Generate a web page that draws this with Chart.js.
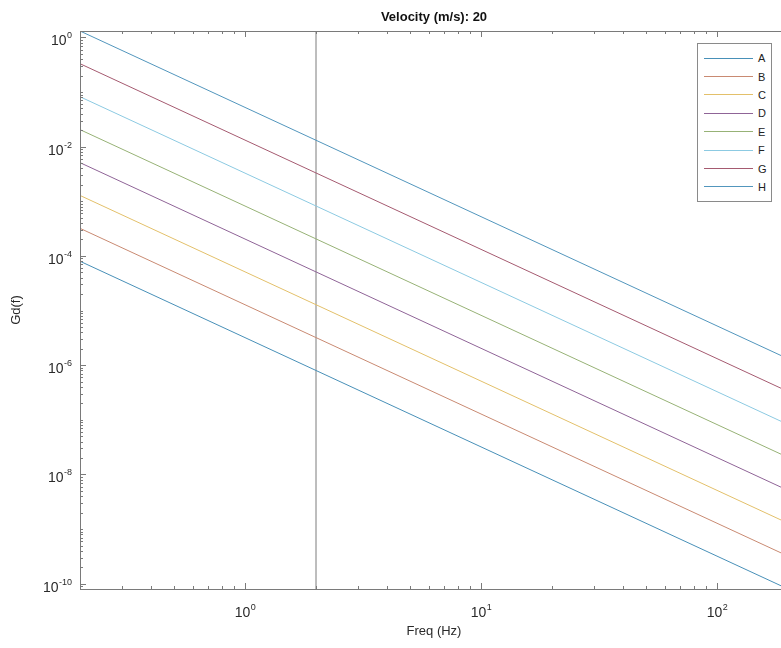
<!DOCTYPE html>
<html lang="en">
<head>
<meta charset="UTF-8">
<title>Velocity (m/s): 20</title>
<style>
    body, html {
        margin: 0;
        padding: 0;
        background: #fff;
        overflow: hidden;
        font-family: "Liberation Sans", Arial, sans-serif;
    }
    .wrap {
        position: relative;
        width: 790px;
        height: 648px;
    }
    #chart {
        position: absolute;
        left: 0;
        top: 0;
    }
    /* legend box, inside the plot like MATLAB's 'northeast' */
    .legend {
        position: absolute;
        left: 697px;
        top: 43px;
        width: 75px;
        height: 159px;
        border: 1px solid #8a8a8a;
        background: #fff;
        box-sizing: border-box;
        padding-top: 5px;
    }
    .legend .row {
        height: 18.4px;
        display: flex;
        align-items: center;
        font-size: 11px;
        color: #222;
    }
    .legend .swatch {
        width: 49px;
        height: 0;
        margin-left: 6px;
        margin-right: 5px;
        border-top: 1px solid;
    }
</style>
</head>
<body>
<div class="wrap">
    <canvas id="chart" width="790" height="648"></canvas>
    <div class="legend" id="legend"></div>
</div>

<script src="https://cdn.jsdelivr.net/npm/chart.js"></script>
<script>
// road classes, Gd(f) read at both ends of the frequency range
const classes = ['A', 'B', 'C', 'D', 'E', 'F', 'G', 'H'];
const freqEnds = [0.2, 200];
const gdAtStart = [8e-5, 3.2e-4, 1.28e-3, 5.1e-3, 2.05e-2, 8.2e-2, 0.33, 1.31];
const gdAtEnd = [8e-11, 3.2e-10, 1.28e-9, 5.1e-9, 2.05e-8, 8.2e-8, 3.3e-7, 1.31e-6];
const colors = ['#4890b8', '#c98a72', '#e3c06a', '#8f6497', '#97b276', '#8ccae2', '#a55a70', '#5296bd'];

// vertical marker
const markerFreq = 2;

// axis limits and labelled ticks
const xMin = 0.2, xMax = 200;
const yMin = 8e-11, yMax = 1.31;
const xTickValues = [1, 10, 100];
const xTickExp = ['0', '1', '2'];
const yTickValues = [1e-10, 1e-8, 1e-6, 1e-4, 1e-2, 1];
const yTickExp = ['-10', '-8', '-6', '-4', '-2', '0'];
const titleText = 'Velocity (m/s): 20';

const axisColor = '#7a7a7a';
const textColor = '#2a2a2a';
const fontFamily = '"Liberation Sans", Arial, sans-serif';

const datasets = classes.map((c, i) => ({
    label: c,
    data: [{x: freqEnds[0], y: gdAtStart[i]}, {x: freqEnds[1], y: gdAtEnd[i]}],
    borderColor: colors[i],
    borderWidth: 1,
    pointRadius: 0,
    tension: 0
}));
datasets.push({
    label: 'marker',
    data: [{x: markerFreq, y: yMin}, {x: markerFreq, y: yMax}],
    borderColor: '#7c7c7c',
    borderWidth: 1,
    pointRadius: 0
});

// MATLAB-like box, inward ticks, 10^n labels and title over the axes
const logAxes = {
    id: 'logAxes',
    afterDraw(chart) {
        const {ctx, chartArea: a, scales: {x, y}} = chart;
        ctx.save();
        ctx.strokeStyle = axisColor;
        ctx.lineWidth = 1;
        ctx.strokeRect(Math.round(a.left) + 0.5, Math.round(a.top) + 0.5,
            Math.round(a.right - a.left), Math.round(a.bottom - a.top));

        function seg(x1, y1, x2, y2) {
            ctx.beginPath();
            ctx.moveTo(x1, y1);
            ctx.lineTo(x2, y2);
            ctx.stroke();
        }
        // x ticks
        for (let e = -1; e <= 2; e++) {
            for (let m = 1; m <= 9; m++) {
                const v = m * Math.pow(10, e);
                if (v < xMin || v > xMax) continue;
                const px = Math.round(x.getPixelForValue(v)) + 0.5;
                const len = m === 1 ? 6 : 3;
                seg(px, a.bottom, px, a.bottom - len);
                seg(px, a.top, px, a.top + len);
            }
        }
        // y ticks
        for (let e = -11; e <= 0; e++) {
            for (let m = 1; m <= 9; m++) {
                const v = m * Math.pow(10, e);
                if (v < yMin || v > yMax) continue;
                const py = Math.round(y.getPixelForValue(v)) + 0.5;
                const len = (m === 1 && yTickValues.some(t => Math.abs(t / v - 1) < 1e-6)) ? 6 : 3;
                seg(a.left, py, a.left + len, py);
            }
        }

        ctx.fillStyle = textColor;
        ctx.textBaseline = 'alphabetic';
        const baseFont = '14px ' + fontFamily;
        const expFont = '9px ' + fontFamily;
        function measure(exp) {
            ctx.font = baseFont;
            const w1 = ctx.measureText('10').width;
            ctx.font = expFont;
            const w2 = ctx.measureText(exp).width;
            return [w1, w2];
        }
        function label(left, baseline, exp) {
            const [w1] = measure(exp);
            ctx.font = baseFont;
            ctx.fillText('10', left, baseline);
            ctx.font = expFont;
            ctx.fillText(exp, left + w1 + 0.5, baseline - 7);
        }
        xTickValues.forEach((v, i) => {
            const [w1, w2] = measure(xTickExp[i]);
            const px = x.getPixelForValue(v);
            label(px - (w1 + w2) / 2, a.bottom + 28, xTickExp[i]);
        });
        yTickValues.forEach((v, i) => {
            const [w1, w2] = measure(yTickExp[i]);
            const py = y.getPixelForValue(v);
            label(a.left - 8 - (w1 + w2 + 0.5), py + 8, yTickExp[i]);
        });

        ctx.fillStyle = '#111';
        ctx.font = 'bold 13px ' + fontFamily;
        ctx.textAlign = 'center';
        ctx.textBaseline = 'middle';
        ctx.fillText(titleText, (a.left + a.right) / 2, 17);
        ctx.restore();
    }
};

const chart = new Chart(document.getElementById('chart'), {
    type: 'line',
    data: {datasets: datasets},
    options: {
        responsive: false,
        animation: false,
        devicePixelRatio: 1,
        layout: {padding: {top: 31, right: 2, left: 0, bottom: 0}},
        plugins: {
            legend: {display: false},
            tooltip: {enabled: false},
            title: {display: false}
        },
        scales: {
            x: {
                type: 'logarithmic',
                min: xMin,
                max: xMax,
                grid: {display: false},
                border: {display: false},
                ticks: {display: false},
                title: {
                    display: true,
                    text: 'Freq (Hz)',
                    color: textColor,
                    font: {family: fontFamily, size: 13},
                    padding: {top: 4, bottom: 9}
                },
                afterFit(scale) { scale.height = 59; }
            },
            y: {
                type: 'logarithmic',
                min: yMin,
                max: yMax,
                grid: {display: false},
                border: {display: false},
                ticks: {display: false},
                title: {
                    display: true,
                    text: 'Gd(f)',
                    color: textColor,
                    font: {family: fontFamily, size: 13},
                    padding: {top: 9, bottom: 4}
                },
                afterFit(scale) { scale.width = 80; }
            }
        }
    },
    plugins: [logAxes]
});

// legend
const legendEl = document.getElementById('legend');
classes.forEach((c, i) => {
    const row = document.createElement('div');
    row.className = 'row';
    const sw = document.createElement('span');
    sw.className = 'swatch';
    sw.style.borderTopColor = colors[i];
    const txt = document.createElement('span');
    txt.textContent = c;
    row.appendChild(sw);
    row.appendChild(txt);
    legendEl.appendChild(row);
});
</script>
</body>
</html>
